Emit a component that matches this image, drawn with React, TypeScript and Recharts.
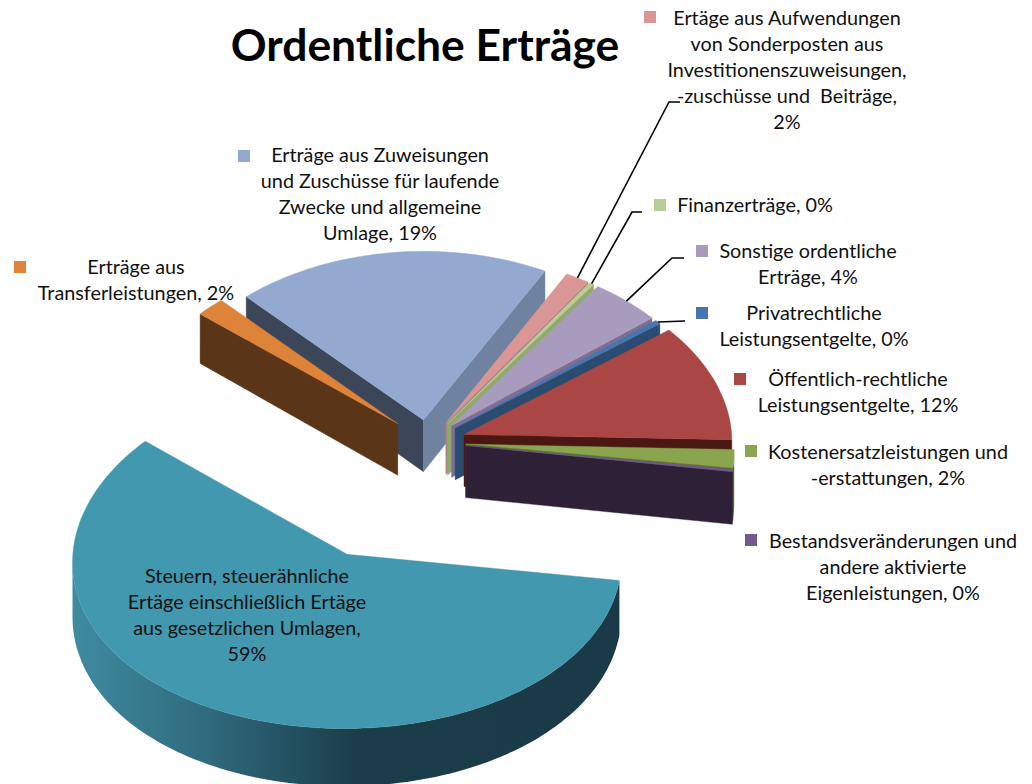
import React from "react"
import { Pie, PieChart } from "recharts"

// Clockwise order starting at the left cut of the big blue slice
const categories = [
  "Zuweisungen",
  "Aufwendungen",
  "Finanzerträge",
  "Sonstige",
  "Privatrechtlich",
  "Öffentlich",
  "Kostenersatz",
  "Bestand",
  "Steuern",
  "Transfer",
]
const shares = [19.7, 1.5, 0.3, 4.4, 0.4, 11.1, 1.7, 0.2, 58.8, 1.8]

const labelLines = [
  ["Erträge aus Zuweisungen", "und Zuschüsse für laufende", "Zwecke und allgemeine", "Umlage, 19%"],
  ["Ertäge aus Aufwendungen", "von Sonderposten aus", "Investitionenszuweisungen,", "-zuschüsse und  Beiträge,", "2%"],
  ["Finanzerträge, 0%"],
  ["Sonstige ordentliche", "Erträge, 4%"],
  ["Privatrechtliche", "Leistungsentgelte, 0%"],
  ["Öffentlich-rechtliche", "Leistungsentgelte, 12%"],
  ["Kostenersatzleistungen und", "-erstattungen, 2%"],
  ["Bestandsveränderungen und", "andere aktivierte", "Eigenleistungen, 0%"],
  ["Steuern, steuerähnliche", "Ertäge einschließlich Ertäge", "aus gesetzlichen Umlagen,", "59%"],
  ["Erträge aus", "Transferleistungen, 2%"],
]

const topColors = ["#93A9CF", "#D99694", "#B9CD96", "#A99BBD", "#4676AD", "#AA4643", "#89A54E", "#71588F", "#4198AF", "#DD843A"]
const startWallColors = ["#3B4658", "#8C6A69", "#7E8F66", "#6E6480", "#2B4B70", "#4A1712", "#5A7030", "#2E2137", "#1A3C48", "#5A3517"]
const endWallColors = ["#6F83A0", "#A88583", "#8FAA6C", "#7F6E93", "#2B4B70", "#4A1712", "#5A7030", "#2E2137", "#1A3C48", "#5A3517"]
const explodeBy = [35, 35, 35, 35, 35, 38, 38, 38, 190, 42]

// Label placement: text centre x, first line y, key square, leader elbow
const labelPlace = [
  { x: 380, y: 154, key: [238, 150] },
  { x: 787, y: 17, key: [644, 11], elbow: [[669, 102], [680, 102]] },
  { x: 755, y: 204, key: [654, 199], elbow: [[632, 212], [642, 212]] },
  { x: 808, y: 250, key: [696, 245], elbow: [[672, 258], [684, 258]] },
  { x: 814, y: 312, key: [696, 307], elbow: [[685, 321]] },
  { x: 858, y: 378, key: [734, 373] },
  { x: 888, y: 451, key: [745, 445] },
  { x: 893, y: 540, key: [745, 534] },
  { x: 247, y: 575 },
  { x: 136, y: 266, key: [14, 261] },
]

const WIDTH = 1032
const HEIGHT = 784
const TILT_BACK = 0.63
const TILT_FRONT = 0.65
const PERSPECTIVE = 7500
const DEPTH = 52
const FONT = "Lato, sans-serif"
const RAD = Math.PI / 180

const tableData = categories.map((name, i) => ({ name, value: shares[i], fill: topColors[i] }))

function project(cx: number, cy: number, u: number, v: number, z = 0) {
  const s = PERSPECTIVE / (PERSPECTIVE + v)
  const tilt = v > 0 ? TILT_BACK : TILT_FRONT
  return [cx + u * s, cy - tilt * v + z * (1 - v / 4000)]
}

const toPath = (pts: number[][]) => "M" + pts.map((p) => `${p[0].toFixed(1)},${p[1].toFixed(1)}`).join("L") + "Z"

function Slice3D(props: any) {
  const { cx, cy, outerRadius, startAngle, endAngle, midAngle, fill } = props
  const name = props.name ?? props.payload?.name
  const i = categories.indexOf(name)
  const ox = explodeBy[i] * Math.cos(midAngle * RAD)
  const oy = explodeBy[i] * Math.sin(midAngle * RAD)

  const at = (r: number, a: number, z = 0) =>
    project(cx, cy, ox + r * Math.cos(a * RAD), oy + r * Math.sin(a * RAD), z)

  const steps = Math.max(2, Math.ceil(Math.abs(startAngle - endAngle) / 1.5))
  const angles = Array.from({ length: steps + 1 }, (_, k) => startAngle + ((endAngle - startAngle) * k) / steps)
  const rim = angles.map((a) => at(outerRadius, a))
  const rimLow = angles.map((a) => at(outerRadius, a, DEPTH))
  const apex = at(0, 0)
  const apexLow = at(0, 0, DEPTH)

  // Rim sides that look at the viewer run right to left in this clockwise walk
  const front: number[] = []
  for (let k = 0; k < steps; k++) if (rim[k + 1][0] < rim[k][0]) front.push(k)
  const rimRun = front.length ? [...front, front[front.length - 1] + 1] : []
  const rimFill = name === "Steuern" ? "url(#steuernRim)" : startWallColors[i]

  return (
    <g>
      {name === "Steuern" && (
        <defs>
          <linearGradient id="steuernRim" gradientUnits="userSpaceOnUse" x1="72" x2="618" y1="0" y2="0">
            <stop offset="0" stopColor="#3F8BA1" />
            <stop offset="0.25" stopColor="#2F6A7D" />
            <stop offset="0.52" stopColor="#1B3D49" />
            <stop offset="1" stopColor="#193A46" />
          </linearGradient>
        </defs>
      )}
      {rim[0][0] < apex[0] && (
        <path d={toPath([apex, rim[0], rimLow[0], apexLow])} fill={startWallColors[i]} stroke={startWallColors[i]} strokeWidth={0.4} />
      )}
      {apex[0] < rim[steps][0] && (
        <path d={toPath([rim[steps], apex, apexLow, rimLow[steps]])} fill={endWallColors[i]} stroke={endWallColors[i]} strokeWidth={0.4} />
      )}
      {rimRun.length > 0 && (
        <path
          d={toPath([...rimRun.map((k) => rim[k]), ...rimRun.slice().reverse().map((k) => rimLow[k])])}
          fill={rimFill}
        />
      )}
      <path d={toPath([apex, ...rim])} fill={fill} stroke={fill} strokeWidth={0.4} />
    </g>
  )
}

function SliceLabel(props: any) {
  const { cx, cy, outerRadius, midAngle } = props
  const name = props.name ?? props.payload?.name
  const i = categories.indexOf(name)
  const place = labelPlace[i]
  const ox = explodeBy[i] * Math.cos(midAngle * RAD)
  const oy = explodeBy[i] * Math.sin(midAngle * RAD)
  const rimPoint = project(
    cx,
    cy,
    ox + outerRadius * Math.cos(midAngle * RAD),
    oy + outerRadius * Math.sin(midAngle * RAD),
  )
  return (
    <g>
      {place.elbow && (
        <polyline
          points={[rimPoint, ...place.elbow].map((p) => p.join(",")).join(" ")}
          fill="none"
          stroke="#000"
          strokeWidth={1.6}
        />
      )}
      {place.key && <rect x={place.key[0]} y={place.key[1]} width={12} height={12} fill={topColors[i]} />}
      {labelLines[i].map((line, k) => (
        <text
          key={k}
          x={place.x}
          y={place.y + k * 26}
          textAnchor="middle"
          dominantBaseline="central"
          fontFamily={FONT}
          fontSize={19.8}
          fill="#111"
          style={{ whiteSpace: "pre" }}
        >
          {line}
        </text>
      ))}
    </g>
  )
}

export default function App() {
  return (
    <div style={{ position: "absolute", left: 0, top: 0, width: WIDTH, height: HEIGHT, background: "#fff" }}>
      <PieChart width={WIDTH} height={HEIGHT} margin={{ top: 0, right: 0, bottom: 0, left: 0 }}>
        <text x={425} y={61} textAnchor="middle" fontFamily={FONT} fontWeight={700} fontSize={44.4} fill="#000">
          Ordentliche Erträge
        </text>
        <Pie
          data={tableData}
          dataKey="value"
          nameKey="name"
          cx={428}
          cy={442}
          innerRadius={0}
          outerRadius={268}
          startAngle={133}
          endAngle={-227}
          stroke="none"
          shape={Slice3D}
          label={SliceLabel}
          labelLine={false}
          isAnimationActive={false}
        />
      </PieChart>
    </div>
  )
}
